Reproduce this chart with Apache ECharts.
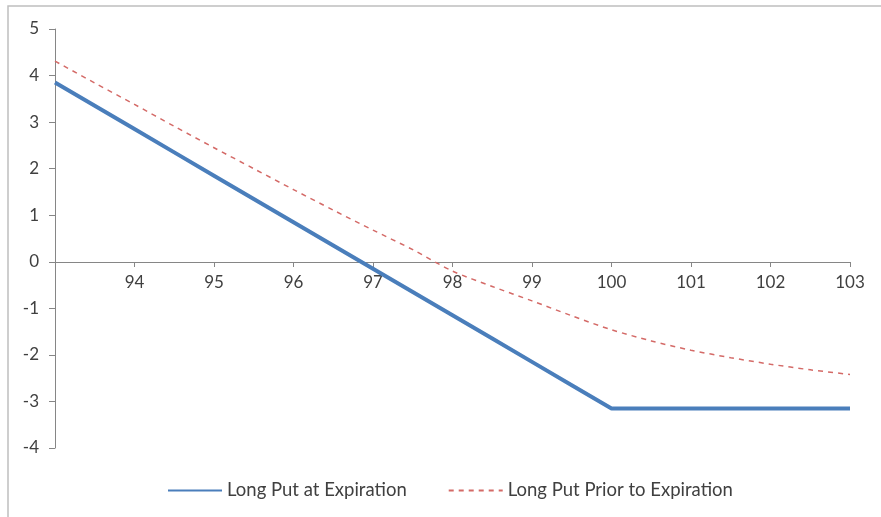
<!DOCTYPE html>
<html>
<head>
<meta charset="utf-8">
<script src="https://cdn.jsdelivr.net/npm/echarts@6/dist/echarts.min.js"></script>
<style>
  html, body { margin: 0; padding: 0; background: #fff; }
  #chart { width: 881px; height: 517px; }
</style>
</head>
<body>
<div id="chart"></div>
<script>
// Underlying price at expiration
const prices = [93, 93.5, 94, 94.5, 95, 95.5, 96, 96.5, 97, 97.5, 98, 98.5, 99, 99.5, 100, 100.5, 101, 101.5, 102, 102.5, 103];
// Profit of the long put held to expiration (strike 100)
const atExpiration = [3.85, 3.35, 2.85, 2.35, 1.85, 1.35, 0.85, 0.35, -0.15, -0.65, -1.15, -1.65, -2.15, -2.65, -3.15, -3.15, -3.15, -3.15, -3.15, -3.15, -3.15];
// Profit of the same put valued before expiration
const priorToExpiration = [4.31, 3.84, 3.38, 2.91, 2.45, 2.0, 1.55, 1.11, 0.68, 0.26, -0.2, -0.53, -0.84, -1.16, -1.46, -1.7, -1.9, -2.06, -2.2, -2.32, -2.42];
const xTicks = [94, 95, 96, 97, 98, 99, 100, 101, 102, 103];

const pairs = (xs, ys) => xs.map((x, i) => [x, ys[i]]);

const chart = echarts.init(document.getElementById('chart'), null, { renderer: 'canvas' });
const textColor = '#404040';
const axisColor = '#868686';
const font = 'Lato, "Open Sans", sans-serif';

chart.setOption({
  animation: false,
  textStyle: { fontFamily: font },
  grid: { left: 55, right: 31, top: 29, bottom: 69 },
  graphic: [{
    type: 'rect',
    shape: { x: 8, y: 6, width: 900, height: 540 },
    style: { fill: 'none', stroke: '#bfbfbf', lineWidth: 1.5 },
    silent: true
  }],
  xAxis: {
    type: 'value',
    min: 93, max: 103, interval: 1,
    // the horizontal axis sits on the zero line, inside the plot
    position: 'bottom',
    offset: -186,
    axisLine: { onZero: false, lineStyle: { color: axisColor, width: 1 } },
    axisTick: { show: true, length: 5, lineStyle: { color: axisColor } },
    splitLine: { show: false },
    axisLabel: {
      color: textColor, fontSize: 17, margin: 12, fontFamily: font,
      showMinLabel: false,
      formatter: v => (xTicks.indexOf(v) >= 0 ? String(v) : '')
    }
  },
  yAxis: {
    type: 'value',
    min: -4, max: 5, interval: 1,
    axisLine: { show: true, onZero: false, lineStyle: { color: axisColor, width: 1 } },
    axisTick: { show: true, length: 6, lineStyle: { color: axisColor } },
    splitLine: { show: false },
    axisLabel: { color: textColor, fontSize: 17, margin: 16, fontFamily: font }
  },
  legend: {
    top: 476, left: 162,
    itemWidth: 54, itemHeight: 14, itemGap: 41,
    itemStyle: { opacity: 0 },
    textStyle: { color: textColor, fontSize: 18.5, fontFamily: font },
    data: ['Long Put at Expiration', 'Long Put Prior to Expiration']
  },
  series: [
    {
      name: 'Long Put at Expiration',
      type: 'line',
      data: pairs(prices, atExpiration),
      showSymbol: false, symbol: 'none',
      lineStyle: { color: '#4a7ebb', width: 4 },
      itemStyle: { color: '#4a7ebb' }
    },
    {
      name: 'Long Put Prior to Expiration',
      type: 'line',
      data: pairs(prices, priorToExpiration),
      smooth: 0.3,
      showSymbol: false, symbol: 'none',
      lineStyle: { color: '#d46a67', width: 1.5, type: [5, 5] },
      itemStyle: { color: '#d46a67' }
    }
  ]
});
</script>
</body>
</html>
